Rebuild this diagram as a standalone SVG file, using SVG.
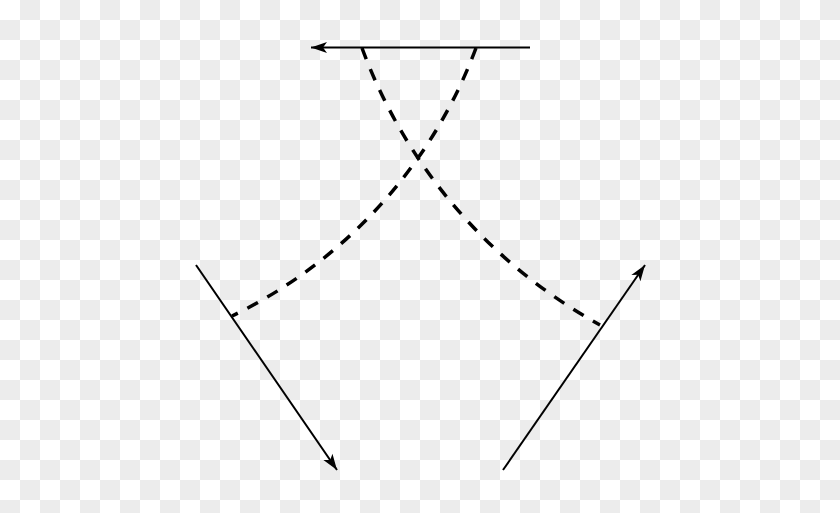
<svg xmlns="http://www.w3.org/2000/svg" width="840" height="513" viewBox="0 0 840 513">
  <defs>
    <pattern id="checker" width="40" height="40" patternUnits="userSpaceOnUse">
      <rect width="40" height="40" fill="#ffffff"/>
      <rect x="20" y="0" width="20" height="20" fill="#ececec"/>
      <rect x="0" y="20" width="20" height="20" fill="#ececec"/>
    </pattern>
    <marker id="arrow" markerUnits="userSpaceOnUse" markerWidth="18" markerHeight="14" refX="16" refY="6" orient="auto" overflow="visible">
      <path d="M16,6 L0,0.5 L4,6 L0,11.5 Z" fill="#000"/>
    </marker>
    <style>
      .solid { fill: none; stroke: #000; stroke-width: 2; marker-end: url(#arrow); }
      .dash { fill: none; stroke: #000; stroke-width: 3.5; stroke-dasharray: 12 10.8; }
    </style>
  </defs>
  <rect width="840" height="513" fill="url(#checker)"/>
  <g id="connectors">
    <path id="top-arrow" class="solid" d="M530,47.5 L311,47.5"/>
    <path id="left-arrow" class="solid" d="M196,265 L337,470"/>
    <path id="right-arrow" class="solid" d="M503,470 L645,265"/>
    <path id="curve-a" class="dash" d="M476,48 A487,487 0 0,1 232,316"/>
    <path id="curve-b" class="dash" d="M362,48 A522,522 0 0,0 600,325"/>
  </g>
</svg>
